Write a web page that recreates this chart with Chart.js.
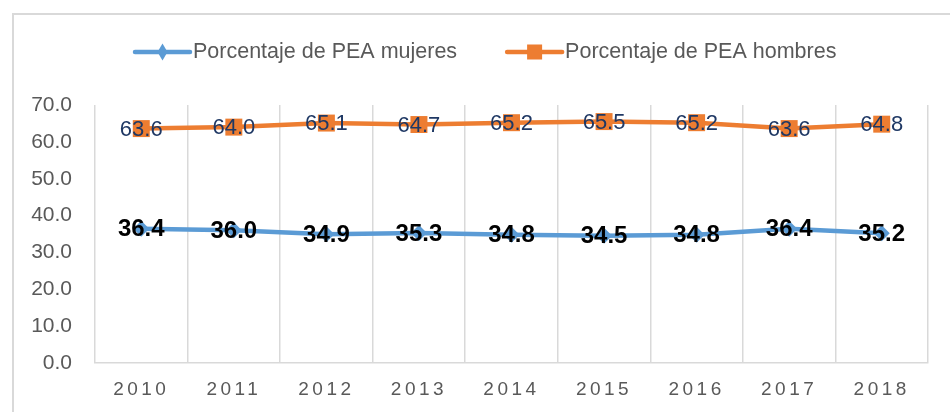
<!DOCTYPE html>
<html>
<head>
<meta charset="utf-8">
<script src="https://cdn.jsdelivr.net/npm/chart.js@4.4.0/dist/chart.umd.min.js"></script>
<style>
  html, body { margin: 0; padding: 0; background: #fff; }
  #container-canvas { width: 950px; height: 412px; }
</style>
</head>
<body>
<div id="container-canvas"><canvas id="myChart"></canvas></div>
<script>
const years = ['2010', '2011', '2012', '2013', '2014', '2015', '2016', '2017', '2018'];
const peaMujeres = [36.4, 36.0, 34.9, 35.3, 34.8, 34.5, 34.8, 36.4, 35.2];
const peaHombres = [63.6, 64.0, 65.1, 64.7, 65.2, 65.5, 65.2, 63.6, 64.8];

const BLUE = '#5B9BD5';
const ORANGE = '#ED7D31';
const GREY = '#595959';
const FONT = '"Liberation Sans", Arial, sans-serif';

// thin grey frame like the office chart border
const framePlugin = {
    id: 'frame',
    beforeDraw(chart) {
        const ctx = chart.ctx;
        ctx.save();
        ctx.strokeStyle = '#D9D9D9';
        ctx.lineWidth = 2;
        ctx.strokeRect(13, 14, 1000, 500);
        ctx.restore();
    }
};

// values printed on top of every point
const valueLabels = {
    id: 'valueLabels',
    afterDatasetsDraw(chart) {
        const ctx = chart.ctx;
        const styles = [
            { font: 'bold 24px ' + FONT, color: '#000000' },
            { font: '22px ' + FONT, color: '#1F3864' }
        ];
        chart.data.datasets.forEach((ds, i) => {
            const meta = chart.getDatasetMeta(i);
            ctx.save();
            ctx.font = styles[i].font;
            ctx.fillStyle = styles[i].color;
            ctx.textAlign = 'center';
            ctx.textBaseline = 'middle';
            meta.data.forEach((pt, k) => {
                ctx.fillText(ds.data[k].toFixed(1), pt.x, pt.y + 1);
            });
            ctx.restore();
        });
        // x tick labels are drawn after this (ticks z: 1), spaced out
        ctx.letterSpacing = '3.5px';
    },
    afterDraw(chart) {
        chart.ctx.letterSpacing = '0px';
    }
};

// legend with line + marker, like the original
const lineLegend = {
    id: 'lineLegend',
    afterDraw(chart) {
        const ctx = chart.ctx;
        ctx.save();
        ctx.font = '21.5px ' + FONT;
        ctx.textBaseline = 'middle';
        let x = 135;
        const y = 52;
        chart.data.datasets.forEach((ds) => {
            ctx.strokeStyle = ds.borderColor;
            ctx.fillStyle = ds.borderColor;
            ctx.lineWidth = 4.5;
            ctx.lineCap = 'round';
            ctx.beginPath();
            ctx.moveTo(x, y);
            ctx.lineTo(x + 55, y);
            ctx.stroke();
            const cx = x + 27.5;
            if (ds.pointStyle === 'rectRot') {
                ctx.beginPath();
                ctx.moveTo(cx, y - 8.5);
                ctx.lineTo(cx + 5, y);
                ctx.lineTo(cx, y + 8.5);
                ctx.lineTo(cx - 5, y);
                ctx.closePath();
                ctx.fill();
            } else {
                ctx.fillRect(cx - 7.5, y - 7.5, 15, 15);
            }
            ctx.fillStyle = GREY;
            ctx.fillText(ds.label, x + 58, y);
            x += 58 + ctx.measureText(ds.label).width + 50;
        });
        ctx.restore();
    }
};

const ctx = document.getElementById('myChart');
new Chart(ctx, {
    type: 'line',
    data: {
        labels: years,
        datasets: [
            {
                label: 'Porcentaje de PEA mujeres',
                data: peaMujeres,
                borderColor: BLUE,
                backgroundColor: BLUE,
                borderWidth: 4.5,
                pointStyle: 'rectRot',
                pointRadius: 8,
                pointBorderWidth: 0,
                tension: 0
            },
            {
                label: 'Porcentaje de PEA hombres',
                data: peaHombres,
                borderColor: ORANGE,
                backgroundColor: ORANGE,
                borderWidth: 4.5,
                pointStyle: 'rect',
                pointRadius: 12,
                pointBorderWidth: 0,
                tension: 0
            }
        ]
    },
    options: {
        responsive: true,
        maintainAspectRatio: false,
        animation: false,
        layout: {
            padding: { top: 105, left: 31, right: 22, bottom: 10.6 }
        },
        plugins: {
            legend: { display: false },
            tooltip: { enabled: false }
        },
        scales: {
            x: {
                offset: true,
                grid: {
                    offset: true,
                    color: '#D9D9D9',
                    lineWidth: 1.5,
                    drawTicks: false
                },
                border: { color: '#D9D9D9', width: 1.5 },
                ticks: {
                    z: 1,
                    padding: 15.6,
                    color: GREY,
                    font: { family: FONT, size: 19 },
                    maxRotation: 0
                },
                afterFit: (scale) => { scale.height = 38.4; }
            },
            y: {
                min: 0,
                max: 70,
                grid: { display: false, drawTicks: false },
                border: { display: false },
                ticks: {
                    stepSize: 10,
                    padding: 23,
                    color: GREY,
                    font: { family: FONT, size: 21 },
                    callback: (v) => v.toFixed(1)
                },
                afterFit: (scale) => { scale.width = 64; }
            }
        }
    },
    plugins: [framePlugin, valueLabels, lineLegend]
});
</script>
</body>
</html>
